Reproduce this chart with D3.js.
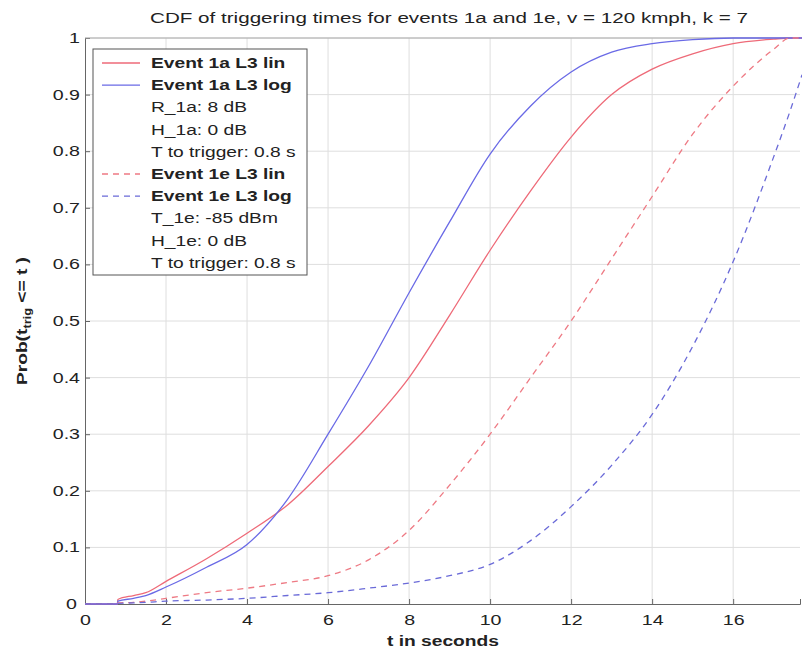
<!DOCTYPE html>
<html lang="en">
<head>
<meta charset="UTF-8">
<script src="https://d3js.org/d3.v7.min.js"></script>
<title>CDF</title>
<style>
  body { margin: 0; background: #fff; }
  svg text { font-family: "Liberation Sans", Arial, sans-serif; fill: #222; }
</style>
</head>
<body>
<svg id="svg" width="802" height="660"></svg>
<script>
// sample times (s) and the four CDF curves
var tValues   = [0, 0.8, 0.81, 1.2, 1.5, 2, 3, 4, 5, 6, 7, 8, 9, 10, 11, 12, 13, 14, 15, 16, 17, 17.4, 17.7];
var lin1a     = [0, 0, 0.008, 0.015, 0.02, 0.04, 0.08, 0.125, 0.175, 0.243, 0.315, 0.40, 0.51, 0.625, 0.73, 0.825, 0.90, 0.945, 0.972, 0.99, 0.998, 1, 1];
var log1a     = [0, 0, 0.005, 0.01, 0.015, 0.03, 0.065, 0.105, 0.185, 0.30, 0.42, 0.55, 0.675, 0.795, 0.88, 0.94, 0.975, 0.99, 0.997, 1, 1, 1, 1];
var lin1e     = [0, 0, 0.002, 0.003, 0.005, 0.01, 0.02, 0.028, 0.038, 0.05, 0.078, 0.13, 0.21, 0.30, 0.40, 0.50, 0.61, 0.72, 0.83, 0.915, 0.98, 1, 1];
var log1e     = [0, 0, 0.001, 0.002, 0.003, 0.005, 0.007, 0.01, 0.015, 0.02, 0.028, 0.037, 0.05, 0.07, 0.112, 0.172, 0.245, 0.335, 0.455, 0.605, 0.79, 0.87, 0.935];

var xTicks = [0, 2, 4, 6, 8, 10, 12, 14, 16];
var yTicks = [0, 0.1, 0.2, 0.3, 0.4, 0.5, 0.6, 0.7, 0.8, 0.9, 1];

var legendItems = [
  { label: "Event 1a L3 lin", series: "lin1a", bold: true },
  { label: "Event 1a L3 log", series: "log1a", bold: true },
  { label: "R_1a: 8 dB" },
  { label: "H_1a: 0 dB" },
  { label: "T to trigger: 0.8 s" },
  { label: "Event 1e L3 lin", series: "lin1e", bold: true },
  { label: "Event 1e L3 log", series: "log1e", bold: true },
  { label: "T_1e: -85 dBm" },
  { label: "H_1e: 0 dB" },
  { label: "T to trigger: 0.8 s" }
];

var styles = {
  lin1a: { color: "#ee6a78", dash: null },
  log1a: { color: "#6a6ae6", dash: null },
  lin1e: { color: "#ee7a84", dash: "6,5" },
  log1e: { color: "#6a6ad8", dash: "6,5" }
};
var seriesData = { lin1a: lin1a, log1a: log1a, lin1e: lin1e, log1e: log1e };

// the original figure is stretched sideways, so text gets widened too
var STRETCH = 1.37;
function stretch(sel, k) {
  sel.each(function () {
    var w = this.getComputedTextLength();
    d3.select(this).attr("textLength", w * k).attr("lengthAdjust", "spacingAndGlyphs");
  });
}

var svg = d3.select("svg");
var plotLeft = 85, plotRight = 800, plotTop = 38, plotBottom = 604;

var x = d3.scaleLinear().domain([0, 17.65]).range([plotLeft, plotRight]);
var y = d3.scaleLinear().domain([0, 1]).range([plotBottom, plotTop]);

// grid
svg.append("g").selectAll("line").data(xTicks.slice(1)).enter().append("line")
  .attr("x1", d => x(d)).attr("x2", d => x(d))
  .attr("y1", plotTop).attr("y2", plotBottom)
  .attr("stroke", "#dedede");
svg.append("g").selectAll("line").data(yTicks.slice(1)).enter().append("line")
  .attr("x1", plotLeft).attr("x2", plotRight)
  .attr("y1", d => y(d)).attr("y2", d => y(d))
  .attr("stroke", "#dedede");

// axes (ticks pointing inward like matlab)
var xAxis = d3.axisBottom(x).tickValues(xTicks).tickSize(-5).tickPadding(11).tickFormat(d3.format("d"));
var yAxis = d3.axisLeft(y).tickValues(yTicks).tickSize(-5).tickPadding(5)
  .tickFormat(d => d === 0 || d === 1 ? d : d3.format(".1f")(d));

var gx = svg.append("g").attr("transform", "translate(0," + plotBottom + ")").call(xAxis);
var gy = svg.append("g").attr("transform", "translate(" + plotLeft + ",0)").call(yAxis);
[gx, gy].forEach(g => {
  g.select(".domain").attr("stroke", "#666");
  g.selectAll(".tick line").attr("stroke", "#666");
  g.selectAll(".tick text").attr("font-size", 14).attr("fill", "#333")
    .style("font-family", "'Liberation Sans', Arial, sans-serif");
  stretch(g.selectAll(".tick text"), 1.4);
});
gy.select(".tick text").attr("dx", -3);  // the "0" sits a bit left of the corner

// top box line
svg.append("line").attr("x1", plotLeft).attr("x2", plotRight).attr("y1", plotTop).attr("y2", plotTop)
  .attr("stroke", "#aaa");

// curves
var line = d3.line().x((d, i) => x(tValues[i])).y(d => y(d)).curve(d3.curveMonotoneX);
Object.keys(seriesData).forEach(k => {
  svg.append("path")
    .datum(seriesData[k])
    .attr("d", line)
    .attr("fill", "none")
    .attr("stroke", styles[k].color)
    .attr("stroke-width", 1.3)
    .attr("stroke-dasharray", styles[k].dash);
});

// legend
var lg = svg.append("g");
lg.append("rect").attr("x", 93).attr("y", 49).attr("width", 214).attr("height", 226)
  .attr("fill", "#fff").attr("stroke", "#555");
legendItems.forEach((it, i) => {
  var yy = 63 + i * 22.2;
  if (it.series) {
    lg.append("line").attr("x1", 102).attr("x2", 140).attr("y1", yy).attr("y2", yy)
      .attr("stroke", styles[it.series].color).attr("stroke-width", 1.3)
      .attr("stroke-dasharray", styles[it.series].dash);
  }
  lg.append("text").attr("x", 151).attr("y", yy + 5)
    .attr("font-size", 14).attr("font-weight", it.bold ? "bold" : "normal")
    .attr("fill", it.bold ? "#111" : "#333")
    .text(it.label);
});
stretch(lg.selectAll("text"), STRETCH);

// title and labels
svg.append("text").attr("x", 449).attr("y", 23).attr("text-anchor", "middle")
  .attr("font-size", 14).attr("textLength", 598).attr("lengthAdjust", "spacingAndGlyphs")
  .text("CDF of triggering times for events 1a and 1e, v = 120 kmph, k = 7");

var xl = svg.append("text").attr("x", 443).attr("y", 646).attr("text-anchor", "middle")
  .attr("font-size", 14).attr("font-weight", "bold").text("t in seconds");
stretch(xl, STRETCH);

var yl = svg.append("text").attr("transform", "translate(27,321) rotate(-90)")
  .attr("text-anchor", "middle").attr("font-size", 15).attr("font-weight", "bold")
  .attr("textLength", 128).attr("lengthAdjust", "spacingAndGlyphs");
yl.append("tspan").text("Prob(t");
yl.append("tspan").attr("font-size", 10).attr("dy", 4).text("trig");
yl.append("tspan").attr("dy", -4).text(" <= t )");
</script>
</body>
</html>
